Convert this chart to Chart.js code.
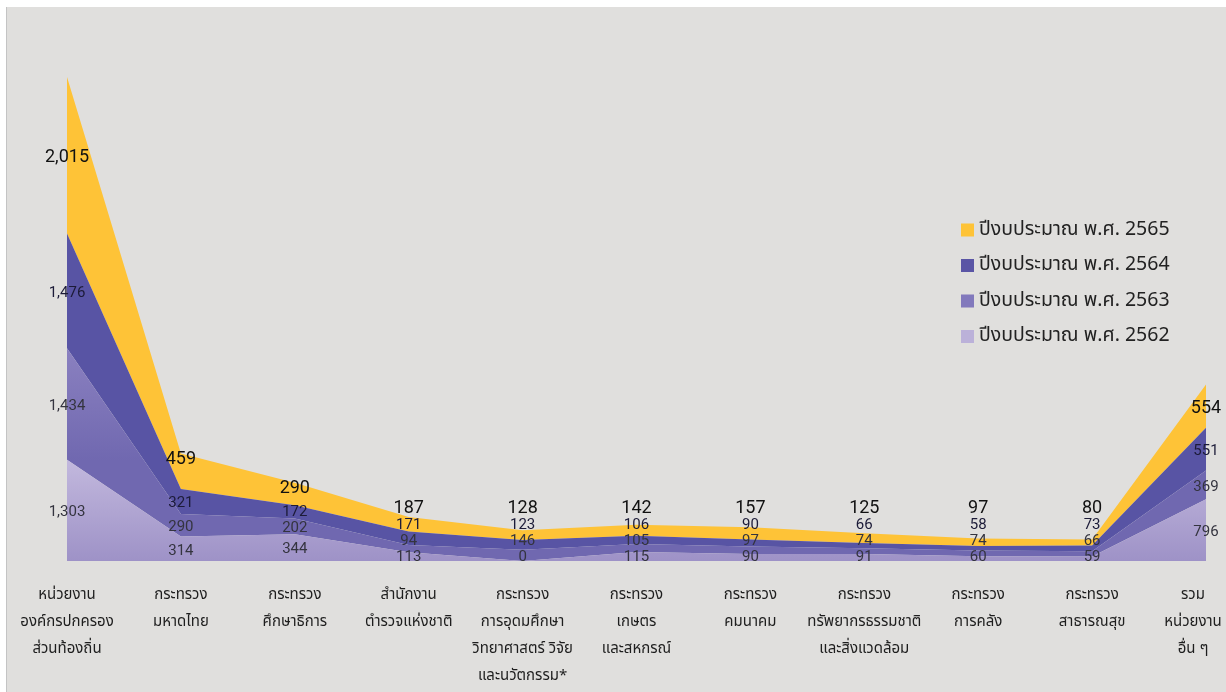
<!DOCTYPE html>
<html>
<head>
<meta charset="utf-8">
<script src="https://cdn.jsdelivr.net/npm/chart.js@4.4.0/dist/chart.umd.min.js"></script>
<style>
  html, body { margin: 0; padding: 0; background: #fff; }
  #wrap { position: absolute; left: 6px; top: 7px; width: 1220px; height: 685px;
          background: #e0dfdd; border-left: 1px solid #c4c4c4; box-sizing: border-box; }
  canvas { display: block; }
</style>
</head>
<body>
<div id="wrap"><canvas id="myChart"></canvas></div>
<script>
// categories (multi-line labels)
var categories = [
  ['หน่วยงาน', 'องค์กรปกครอง', 'ส่วนท้องถิ่น'],
  ['กระทรวง', 'มหาดไทย'],
  ['กระทรวง', 'ศึกษาธิการ'],
  ['สำนักงาน', 'ตำรวจแห่งชาติ'],
  ['กระทรวง', 'การอุดมศึกษา', 'วิทยาศาสตร์ วิจัย', 'และนวัตกรรม*'],
  ['กระทรวง', 'เกษตร', 'และสหกรณ์'],
  ['กระทรวง', 'คมนาคม'],
  ['กระทรวง', 'ทรัพยากรธรรมชาติ', 'และสิ่งแวดล้อม'],
  ['กระทรวง', 'การคลัง'],
  ['กระทรวง', 'สาธารณสุข'],
  ['รวม', 'หน่วยงาน', 'อื่น ๆ']
];

// series, stacked bottom -> top
var y2562 = [1303, 314, 344, 113, 0, 115, 90, 91, 60, 59, 796];
var y2563 = [1434, 290, 202, 94, 146, 105, 97, 74, 74, 66, 369];
var y2564 = [1476, 321, 172, 171, 123, 106, 90, 66, 58, 73, 551];
var y2565 = [2015, 459, 290, 187, 128, 142, 157, 125, 97, 80, 554];

var seriesNames = ['ปีงบประมาณ พ.ศ. 2562', 'ปีงบประมาณ พ.ศ. 2563', 'ปีงบประมาณ พ.ศ. 2564', 'ปีงบประมาณ พ.ศ. 2565'];
var series = [y2562, y2563, y2564, y2565];
var legendColors = ['#bbb1d9', '#8279bc', '#5a55a5', '#fec337'];

var yMax = 7000;

var thaiFont = '"Noto Sans Thai", "Tahoma", "Noto Sans", sans-serif';
var numFont = 'Roboto, "Noto Sans", sans-serif';

function vGrad(top, bottom, c1, c2) {
  return function(context) {
    var chart = context.chart, ca = chart.chartArea;
    if (!ca) return c2;
    var g = chart.ctx.createLinearGradient(0, ca.bottom - top, 0, ca.bottom - bottom);
    g.addColorStop(0, c1);
    g.addColorStop(1, c2);
    return g;
  };
}

var fills = [
  vGrad(100, 0, '#c2b8dd', '#9e92c7'),
  vGrad(215, 100, '#8b81c0', '#7068b0'),
  '#5854a4',
  '#fec337'
];

// value labels inside / above each layer
var valueLabels = {
  id: 'valueLabels',
  afterDatasetsDraw: function(chart) {
    var ctx = chart.ctx, xs = chart.scales.x, ys = chart.scales.y;
    var base = ys.getPixelForValue(0);
    ctx.save();
    ctx.textAlign = 'center';
    ctx.textBaseline = 'middle';
    categories.forEach(function(c, i) {
      var x = xs.getPixelForValue(i);
      var cum = 0, prevY = null;
      series.forEach(function(vals, k) {
        var v = vals[i];
        var lo = ys.getPixelForValue(cum);
        var mid = ys.getPixelForValue(cum + v / 2) + 2;
        cum += v;
        var hi = ys.getPixelForValue(cum);
        var y;
        if (k === 0) y = Math.min(mid, base - 4);
        else if (k === 3) {
          y = Math.min(mid, prevY - 17);
          if (lo - hi < 40) y = Math.min(y, hi + 6);
        } else y = Math.min(mid, prevY - 16);
        prevY = y;
        if (k === 3) { ctx.font = '18px ' + numFont; ctx.fillStyle = '#111'; }
        else if (k === 2) { ctx.font = '15px ' + numFont; ctx.fillStyle = '#1c1b38'; }
        else { ctx.font = '15px ' + numFont; ctx.fillStyle = '#34343f'; }
        ctx.fillText(v.toLocaleString('en-US'), x, y);
      });
    });
    ctx.restore();
  }
};

// legend drawn at the right, top series first
var sideLegend = {
  id: 'sideLegend',
  afterDraw: function(chart) {
    var ctx = chart.ctx;
    ctx.save();
    ctx.textBaseline = 'middle';
    ctx.textAlign = 'left';
    ctx.font = '19.5px ' + thaiFont;
    for (var k = 3; k >= 0; k--) {
      var y = 223 + (3 - k) * 35.5;
      ctx.fillStyle = legendColors[k];
      ctx.fillRect(954, y - 6.5, 13, 13);
      ctx.fillStyle = '#222';
      ctx.fillText(seriesNames[k], 972, y + 1);
    }
    ctx.restore();
  }
};

// soft shadow on the top layer, and pull the last tick label inside the canvas
var tweaks = {
  id: 'tweaks',
  beforeDraw: function(chart) {
    var items = chart.scales.x.getLabelItems();
    var last = items[items.length - 1];
    if (last && !last._moved) { last.options.translation[0] -= 13; last._moved = true; }
  },
  beforeDatasetDraw: function(chart, args) {
    if (args.index === 3) {
      var ctx = chart.ctx;
      ctx.save();
      ctx.shadowColor = 'rgba(0,0,0,0.25)';
      ctx.shadowBlur = 3;
      ctx.shadowOffsetX = 1.5;
      ctx.shadowOffsetY = 1;
    }
  },
  afterDatasetDraw: function(chart, args) {
    if (args.index === 3) chart.ctx.restore();
  }
};

var ctx = document.getElementById('myChart').getContext('2d');
var myChart = new Chart(ctx, {
  type: 'line',
  data: {
    labels: categories,
    datasets: series.map(function(vals, k) {
      return {
        label: seriesNames[k],
        data: vals,
        backgroundColor: fills[k],
        borderWidth: 0,
        pointRadius: 0,
        fill: k === 0 ? 'origin' : '-1',
        tension: 0
      };
    })
  },
  options: {
    responsive: true,
    maintainAspectRatio: false,
    animation: false,
    layout: { padding: { left: 60, right: 20, top: 10, bottom: 0 } },
    plugins: {
      legend: { display: false },
      tooltip: { enabled: false }
    },
    scales: {
      x: {
        offset: false,
        grid: { display: false },
        border: { display: false },
        ticks: {
          color: '#1e1e1e',
          padding: 13,
          maxRotation: 0,
          autoSkip: false,
          font: { family: thaiFont, size: 15, lineHeight: 1.8 }
        },
        afterFit: function(scale) {
          scale.height = 131;
          scale.paddingLeft = 0;
          scale.paddingRight = 0;
        }
      },
      y: {
        display: false,
        stacked: true,
        min: 0,
        max: yMax
      }
    }
  },
  plugins: [valueLabels, sideLegend, tweaks]
});
</script>
</body>
</html>
